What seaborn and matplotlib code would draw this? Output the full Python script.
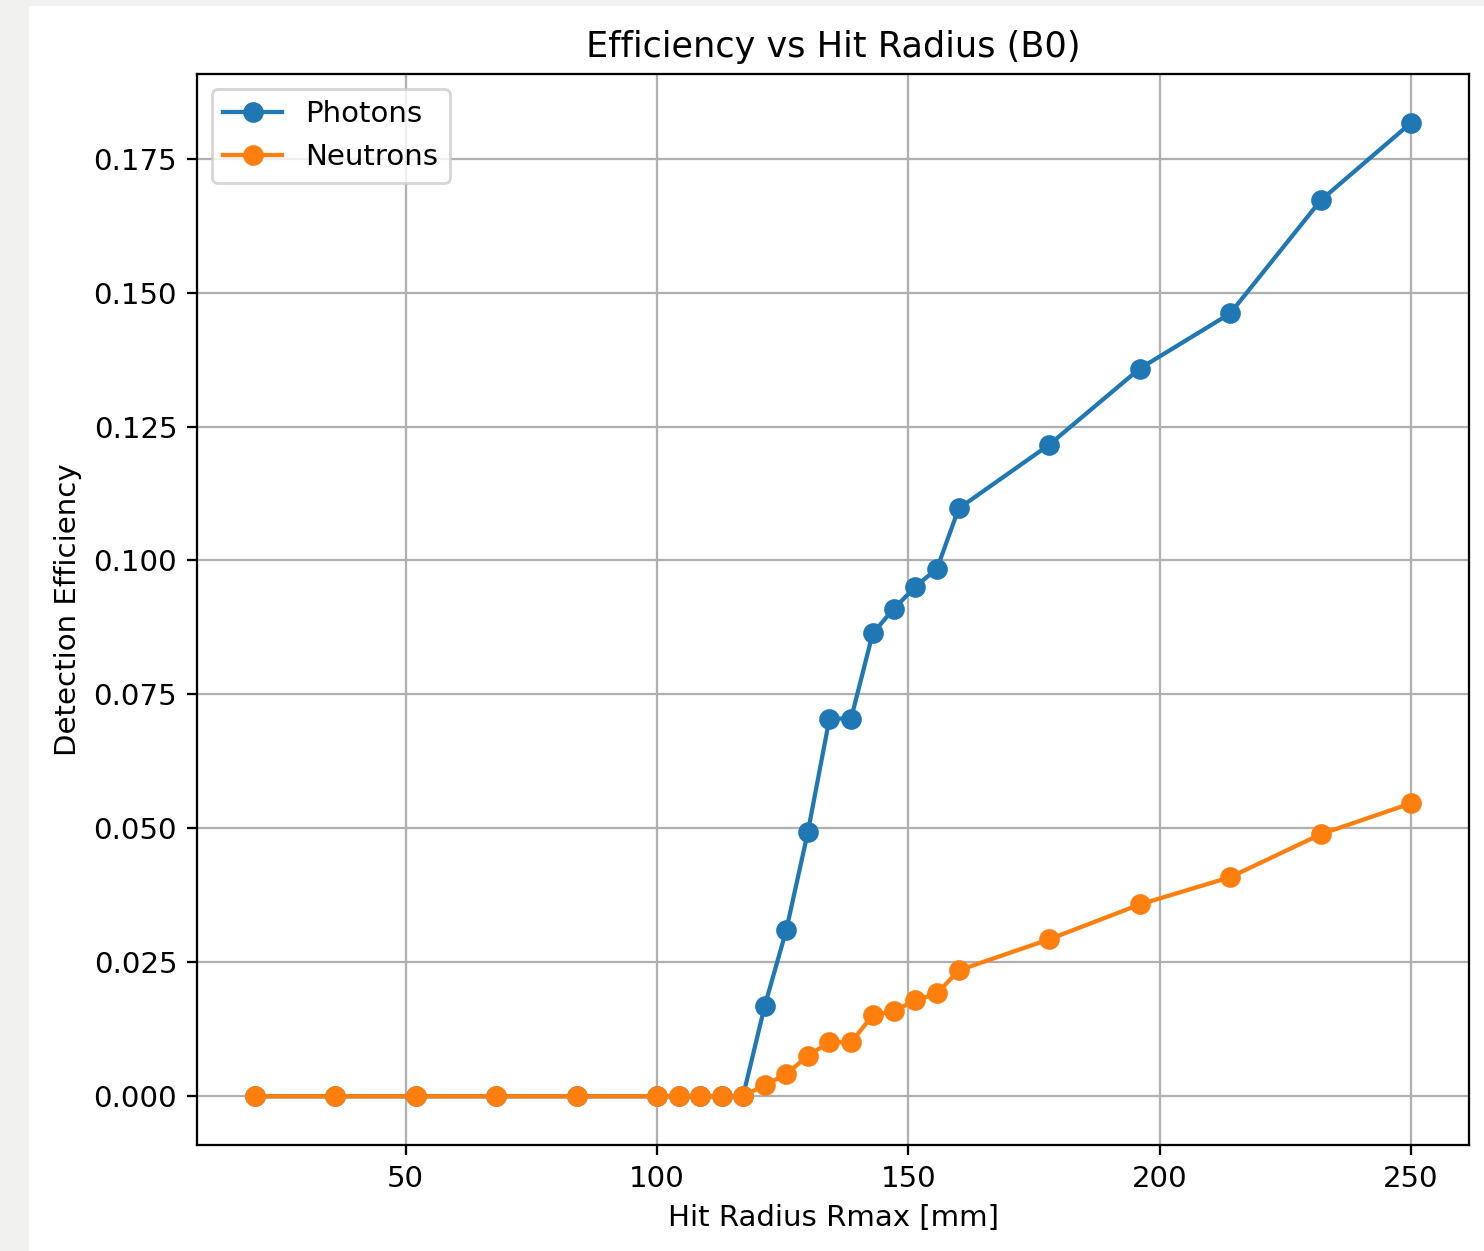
import matplotlib
matplotlib.use("Agg")
import matplotlib.pyplot as plt
import matplotlib.patches as mpatches
import numpy as np
import pandas as pd
import seaborn as sns

# Data
rmax = [20, 36, 52, 68, 84, 100, 104.3, 108.6, 112.9, 117.1, 121.4, 125.7,
        130.0, 134.3, 138.6, 142.9, 147.1, 151.4, 155.7, 160, 178, 196, 214, 232, 250]
photons = [0, 0, 0, 0, 0, 0, 0, 0, 0, 0, 0.0168, 0.0310, 0.0493, 0.0705, 0.0705,
           0.0864, 0.0910, 0.0951, 0.0985, 0.1097, 0.1216, 0.1358, 0.1461, 0.1672, 0.1817]
neutrons = [0, 0, 0, 0, 0, 0, 0, 0, 0, 0, 0.0021, 0.0041, 0.0076, 0.0101, 0.0101,
            0.0151, 0.0159, 0.0179, 0.0192, 0.0235, 0.0293, 0.0358, 0.0409, 0.0489, 0.0547]
series_names = ["Photons", "Neutrons"]
series_colors = ["#1f77b4", "#ff7f0e"]

plt.rcdefaults()
plt.rcParams['font.family'] = ['DejaVu Sans']

DPI = 204
W, H = 1484, 1251
fig = plt.figure(figsize=(W / DPI, H / DPI), dpi=DPI)
fig.patch.set_facecolor("white")
gray = "#f1f1f0"
fig.patches.append(mpatches.Rectangle((0, 0), 29 / W, 1, transform=fig.transFigure,
                                      facecolor=gray, edgecolor="none", zorder=-5))
fig.patches.append(mpatches.Rectangle((0, 1 - 6 / H), 1, 6 / H, transform=fig.transFigure,
                                      facecolor=gray, edgecolor="none", zorder=-5))

ax = fig.add_axes([197 / W, 1 - 1145 / H, (1469 - 197) / W, (1145 - 74) / H])

for name, vals, col in zip(series_names, [photons, neutrons], series_colors):
    df = pd.DataFrame({"Rmax": rmax, "eff": vals})
    sns.lineplot(data=df, x="Rmax", y="eff", ax=ax, color=col, label=name,
                 marker="o", markersize=6.3, markeredgecolor=col,
                 markeredgewidth=1.0, linewidth=1.5, estimator=None, sort=False)

ax.set_title("Efficiency vs Hit Radius (B0)", fontsize=12.4)
ax.set_xlabel("Hit Radius Rmax [mm]", fontsize=10.35)
ax.set_ylabel("Detection Efficiency", fontsize=10.35)
ax.tick_params(labelsize=10.35)
ax.grid(True, color="#b0b0b0", linewidth=0.8)
ax.set_axisbelow(True)
ax.legend(loc="upper left", fontsize=10.35)

fig.savefig("out.png", dpi=DPI, facecolor=fig.get_facecolor())
